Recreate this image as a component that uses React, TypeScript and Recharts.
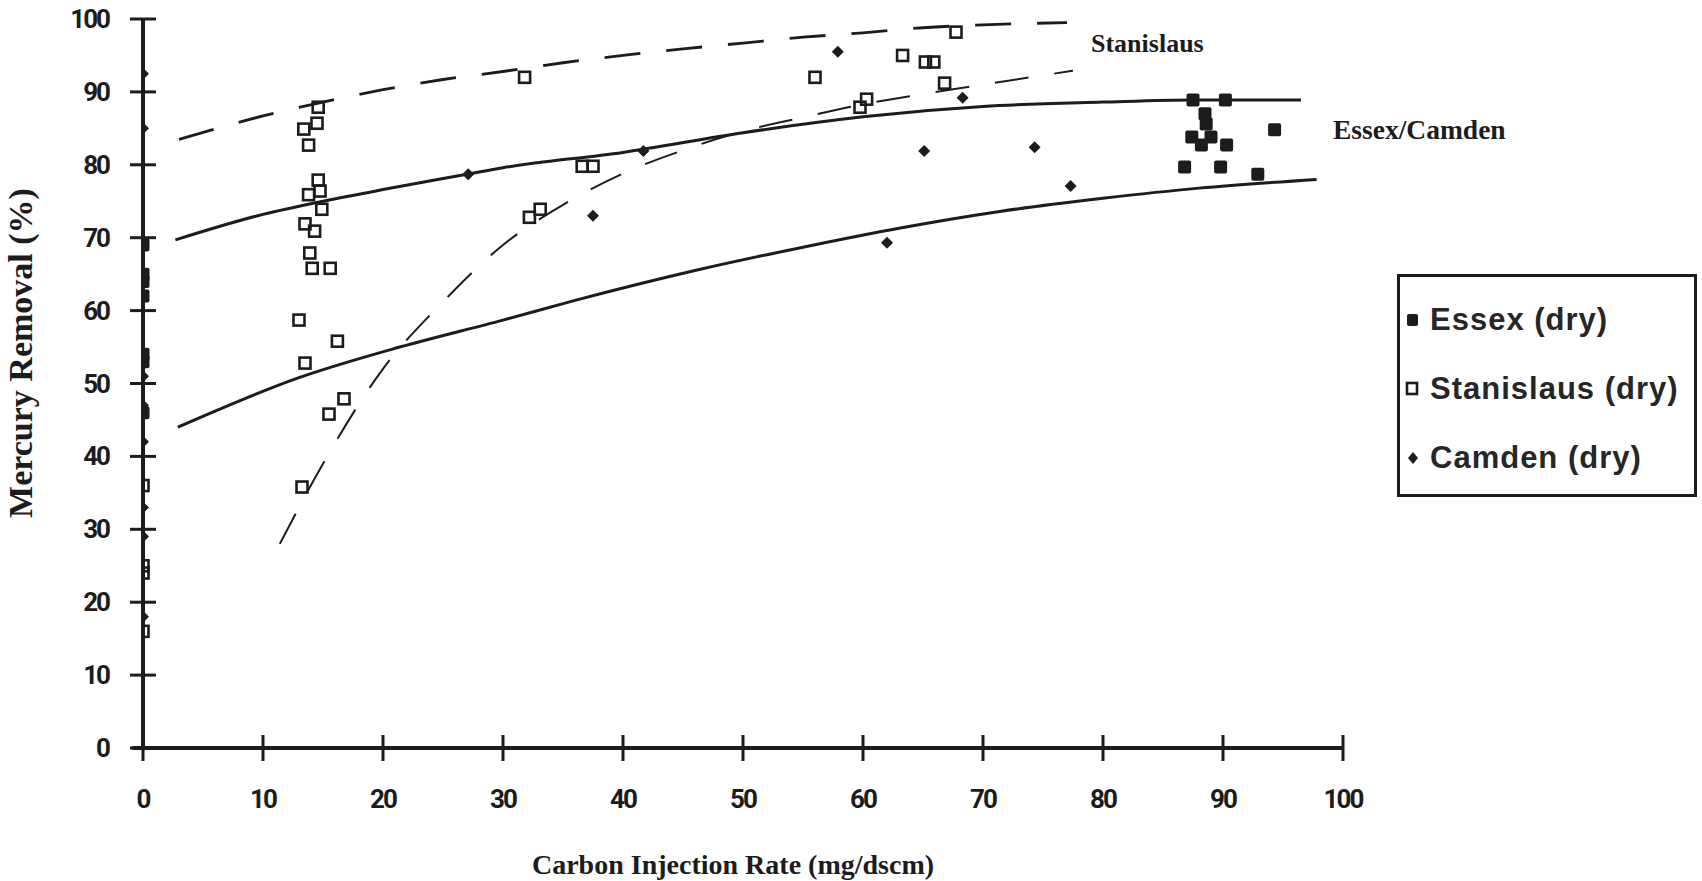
import React from 'react';
import { ComposedChart, XAxis, YAxis, Scatter, Line, ReferenceLine, Legend, Customized } from 'recharts';

const xTicks = [0, 10, 20, 30, 40, 50, 60, 70, 80, 90, 100];
const yTicks = [0, 10, 20, 30, 40, 50, 60, 70, 80, 90, 100];

// measured points
const essexPoints = [
  { x: 0, y: 69 }, { x: 0, y: 65 }, { x: 0, y: 64 }, { x: 0, y: 62 }, { x: 0, y: 54 }, { x: 0, y: 53 }, { x: 0, y: 46 },
  { x: 87.5, y: 88.9 }, { x: 90.2, y: 88.9 }, { x: 88.5, y: 87 }, { x: 88.6, y: 85.6 }, { x: 87.4, y: 83.8 },
  { x: 89, y: 83.8 }, { x: 88.2, y: 82.7 }, { x: 90.3, y: 82.7 }, { x: 94.3, y: 84.8 }, { x: 86.8, y: 79.7 },
  { x: 89.8, y: 79.7 }, { x: 92.9, y: 78.7 },
];

const stanislausPoints = [
  { x: 0, y: 36 }, { x: 0, y: 25 }, { x: 0, y: 24 }, { x: 0, y: 16 },
  { x: 14.6, y: 87.9 }, { x: 14.5, y: 85.7 }, { x: 13.4, y: 84.9 }, { x: 13.8, y: 82.7 }, { x: 14.6, y: 77.9 },
  { x: 14.75, y: 76.4 }, { x: 13.8, y: 75.9 }, { x: 14.9, y: 73.9 }, { x: 13.5, y: 71.9 }, { x: 14.3, y: 70.9 },
  { x: 13.9, y: 67.9 }, { x: 14.1, y: 65.8 }, { x: 15.6, y: 65.8 },
  { x: 13.0, y: 58.7 }, { x: 16.2, y: 55.8 }, { x: 13.5, y: 52.8 }, { x: 16.75, y: 47.9 }, { x: 15.5, y: 45.8 }, { x: 13.25, y: 35.8 },
  { x: 31.8, y: 92 }, { x: 36.6, y: 79.8 }, { x: 37.5, y: 79.8 }, { x: 33.1, y: 73.9 }, { x: 32.2, y: 72.8 },
  { x: 56, y: 92 }, { x: 63.3, y: 95 }, { x: 65.2, y: 94.1 }, { x: 65.9, y: 94.1 }, { x: 67.75, y: 98.2 },
  { x: 66.8, y: 91.2 }, { x: 60.3, y: 89 }, { x: 59.75, y: 87.9 },
];

const camdenPoints = [
  { x: 0, y: 92.5 }, { x: 0, y: 85 }, { x: 0, y: 51 }, { x: 0, y: 47 }, { x: 0, y: 42 }, { x: 0, y: 33 }, { x: 0, y: 29 }, { x: 0, y: 18 },
  { x: 27.1, y: 78.7 }, { x: 41.7, y: 81.9 }, { x: 37.5, y: 73 }, { x: 57.9, y: 95.5 }, { x: 62, y: 69.3 },
  { x: 68.3, y: 89.2 }, { x: 65.1, y: 81.9 }, { x: 74.3, y: 82.4 }, { x: 77.3, y: 77.1 },
];

// fitted curves
const stanislausUpper = [
  { x: 3, y: 83.5 }, { x: 10, y: 86.7 }, { x: 15, y: 88.6 }, { x: 20, y: 90.3 }, { x: 25, y: 91.7 }, { x: 30, y: 92.8 },
  { x: 35, y: 94.0 }, { x: 40, y: 95.0 }, { x: 45, y: 95.9 }, { x: 50, y: 96.7 }, { x: 55, y: 97.5 }, { x: 60, y: 98.1 },
  { x: 65, y: 98.8 }, { x: 70, y: 99.2 }, { x: 77, y: 99.5 },
];
const stanislausLower = [
  { x: 11.4, y: 28 }, { x: 15, y: 39 }, { x: 20, y: 52 }, { x: 25, y: 61.2 }, { x: 30, y: 69 }, { x: 35, y: 74.5 },
  { x: 40, y: 78.8 }, { x: 45, y: 82 }, { x: 50, y: 84.6 }, { x: 55, y: 86.5 }, { x: 60, y: 88.3 }, { x: 65, y: 89.7 },
  { x: 70, y: 91 }, { x: 77.5, y: 92.9 },
];
const essexUpper = [
  { x: 2.7, y: 69.7 }, { x: 10, y: 73.2 }, { x: 15, y: 75.0 }, { x: 20, y: 76.6 }, { x: 27, y: 78.7 }, { x: 30, y: 79.6 },
  { x: 40, y: 81.7 }, { x: 50, y: 84.4 }, { x: 60, y: 86.6 }, { x: 70, y: 88.0 }, { x: 80, y: 88.6 }, { x: 87.5, y: 88.9 },
  { x: 96.5, y: 88.9 },
];
const essexLower = [
  { x: 2.9, y: 44.0 }, { x: 13, y: 50.8 }, { x: 21.4, y: 55.0 }, { x: 30, y: 58.7 }, { x: 36, y: 61.4 }, { x: 46, y: 65.5 },
  { x: 55, y: 68.7 }, { x: 63, y: 71.3 }, { x: 71.4, y: 73.6 }, { x: 80, y: 75.4 }, { x: 88, y: 76.8 }, { x: 97.8, y: 78.0 },
];

const INK = '#1c1c1c';
const tickFont = { fontFamily: 'Roboto, sans-serif', fontWeight: 700, fontSize: 26, letterSpacing: -2 };
const serifBold = { fontFamily: '"Liberation Serif", "Times New Roman", serif', fontWeight: 700 };

const FilledSquare = (p: any) =>
  p.cx == null ? null : <rect x={p.cx - 6.5} y={p.cy - 6.5} width={13} height={13} rx={2} fill={INK} />;
const OpenSquare = (p: any) =>
  p.cx == null ? null : (
    <rect x={p.cx - 5.5} y={p.cy - 5.5} width={11} height={11} fill="none" stroke={INK} strokeWidth={2.6} />
  );
const Diamond = (p: any) =>
  p.cx == null ? null : (
    <path d={`M${p.cx},${p.cy - 6}L${p.cx + 6},${p.cy}L${p.cx},${p.cy + 6}L${p.cx - 6},${p.cy}Z`} fill={INK} />
  );

// ticks cross the axis line, like the original plotter output
const renderYTick = ({ x, y, payload }: any) => (
  <g key={`y-${payload.value}`}>
    <line x1={x - 13} x2={x + 13} y1={y} y2={y} stroke={INK} strokeWidth={3} />
    <text x={x - 34} y={y} textAnchor="end" dominantBaseline="central" fill={INK} style={tickFont}>
      {payload.value}
    </text>
  </g>
);

const renderXTick = ({ x, y, payload }: any) => (
  <g key={`x-${payload.value}`}>
    <line x1={x} x2={x} y1={y - 13} y2={y + 13} stroke={INK} strokeWidth={3} />
    <text x={x} y={y + 51} textAnchor="middle" dominantBaseline="central" fill={INK} style={tickFont}>
      {payload.value}
    </text>
  </g>
);

const Annotations = () => (
  <g>
    <text x={1091} y={52} fill={INK} style={{ ...serifBold, fontSize: 26 }}>Stanislaus</text>
    <text x={1333} y={139} fill={INK} style={{ ...serifBold, fontSize: 27.5 }}>Essex/Camden</text>
    <text x={733} y={874} textAnchor="middle" fill={INK} style={{ ...serifBold, fontSize: 28 }}>
      Carbon Injection Rate (mg/dscm)
    </text>
    <text x={32} y={353} textAnchor="middle" transform="rotate(-90 32 353)" fill={INK} style={{ ...serifBold, fontSize: 34 }}>
      Mercury Removal (%)
    </text>
  </g>
);

const legendItems = [
  { label: 'Essex (dry)', Marker: () => <rect x={4} y={4} width={11} height={12} rx={2} fill={INK} /> },
  { label: 'Stanislaus (dry)', Marker: () => <rect x={4} y={4} width={10} height={11} fill="none" stroke={INK} strokeWidth={2.6} /> },
  { label: 'Camden (dry)', Marker: () => <path d="M10,4L15,10L10,16L5,10Z" fill={INK} /> },
];

const renderLegend = () => (
  <div
    style={{
      boxSizing: 'border-box',
      width: 300,
      height: 223,
      border: `3px solid ${INK}`,
      background: '#fff',
      paddingTop: 8,
    }}
  >
    {legendItems.map(({ label, Marker }) => (
      <div key={label} style={{ display: 'flex', alignItems: 'center', height: 69, paddingLeft: 3 }}>
        <svg width={20} height={20} style={{ marginRight: 7 }}>
          <Marker />
        </svg>
        <span
          style={{
            fontFamily: '"Liberation Sans", Arial, sans-serif',
            fontWeight: 700,
            fontSize: 31,
            color: '#262626',
            letterSpacing: 1,
            whiteSpace: 'nowrap',
          }}
        >
          {label}
        </span>
      </div>
    ))}
  </div>
);

export default function App() {
  return (
    <div style={{ position: 'absolute', left: 0, top: 0, width: 1702, height: 881, background: '#fff' }}>
      <ComposedChart width={1702} height={881} margin={{ top: 19, right: 359, bottom: 103, left: 83 }}>
        <XAxis
          type="number"
          dataKey="x"
          domain={[0, 100]}
          ticks={xTicks}
          interval={0}
          height={30}
          axisLine={false}
          tickLine={false}
          tickSize={0}
          tickMargin={0}
          tick={renderXTick}
          allowDataOverflow
        />
        <YAxis
          type="number"
          dataKey="y"
          domain={[0, 100]}
          ticks={yTicks}
          interval={0}
          width={60}
          axisLine={false}
          tickLine={false}
          tickSize={0}
          tickMargin={0}
          tick={renderYTick}
          allowDataOverflow
        />
        <ReferenceLine segment={[{ x: 0, y: 0 }, { x: 0, y: 100 }]} stroke={INK} strokeWidth={4} ifOverflow="visible" />
        <ReferenceLine segment={[{ x: -0.9, y: 0 }, { x: 100, y: 0 }]} stroke={INK} strokeWidth={4} ifOverflow="visible" />
        <Line data={stanislausUpper} dataKey="y" type="monotone" stroke={INK} strokeWidth={2.8} strokeDasharray="36 26" dot={false} legendType="none" isAnimationActive={false} />
        <Line data={stanislausLower} dataKey="y" type="monotone" stroke={INK} strokeWidth={2} strokeDasharray="34 26" dot={false} legendType="none" isAnimationActive={false} />
        <Line data={essexUpper} dataKey="y" type="monotone" stroke={INK} strokeWidth={3} dot={false} legendType="none" isAnimationActive={false} />
        <Line data={essexLower} dataKey="y" type="monotone" stroke={INK} strokeWidth={3} dot={false} legendType="none" isAnimationActive={false} />
        <Scatter name="Essex (dry)" data={essexPoints} shape={<FilledSquare />} isAnimationActive={false} />
        <Scatter name="Stanislaus (dry)" data={stanislausPoints} shape={<OpenSquare />} isAnimationActive={false} />
        <Scatter name="Camden (dry)" data={camdenPoints} shape={<Diamond />} isAnimationActive={false} />
        <Customized component={Annotations} />
        <Legend
          layout="vertical"
          align="center"
          verticalAlign="middle"
          content={renderLegend}
          wrapperStyle={{ left: 1397, top: 274, width: 300, height: 223 }}
        />
      </ComposedChart>
    </div>
  );
}
